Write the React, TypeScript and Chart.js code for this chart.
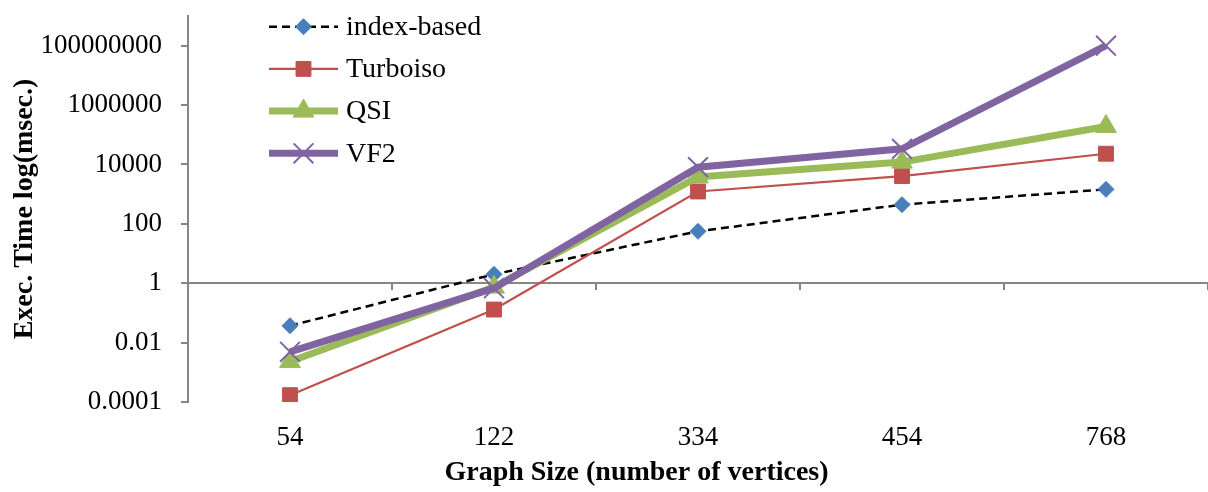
import React, { useEffect, useRef } from 'react';
import { Chart, registerables } from 'chart.js';

Chart.register(...registerables);

const CATEGORIES = ['54', '122', '334', '454', '768'];
const INDEX_BASED = [0.037, 2.0, 56, 443, 1450];
const TURBOISO = [0.00017, 0.13, 1230, 4050, 23000];
const QSI = [0.0023, 0.74, 3800, 12000, 190000];
const VF2 = [0.0049, 0.68, 8100, 33600, 100000000];
const SERIES_NAMES = ['index-based', 'Turboiso', 'QSI', 'VF2'];
const Y_TICK_VALUES = [0.0001, 0.01, 1, 100, 10000, 1000000, 100000000];
const Y_TICK_LABELS = ['0.0001', '0.01', '1', '100', '10000', '1000000', '100000000'];
const X_TITLE = 'Graph Size (number of vertices)';
const Y_TITLE = 'Exec. Time log(msec.)';

const AXIS_GRAY = '#868686';
const FONT = "'Liberation Serif', 'Times New Roman', serif";

function drawMarker(
  ctx: CanvasRenderingContext2D,
  style: string,
  x: number,
  y: number,
  r: number,
  fill: string,
  stroke: string,
  lw: number
) {
  ctx.save();
  ctx.setLineDash([]);
  ctx.fillStyle = fill;
  ctx.strokeStyle = stroke;
  ctx.lineWidth = lw;
  ctx.beginPath();
  if (style === 'rectRot') {
    ctx.moveTo(x, y - r);
    ctx.lineTo(x + r, y);
    ctx.lineTo(x, y + r);
    ctx.lineTo(x - r, y);
    ctx.closePath();
    ctx.fill();
    ctx.stroke();
  } else if (style === 'rect') {
    const s = r * Math.SQRT1_2;
    ctx.rect(x - s, y - s, 2 * s, 2 * s);
    ctx.fill();
    ctx.stroke();
  } else if (style === 'triangle') {
    ctx.moveTo(x, y - r);
    ctx.lineTo(x + r * Math.sin(Math.PI / 3), y + r / 2);
    ctx.lineTo(x - r * Math.sin(Math.PI / 3), y + r / 2);
    ctx.closePath();
    ctx.fill();
    ctx.stroke();
  } else if (style === 'crossRot') {
    const d = r * Math.SQRT1_2;
    ctx.moveTo(x - d, y - d);
    ctx.lineTo(x + d, y + d);
    ctx.moveTo(x - d, y + d);
    ctx.lineTo(x + d, y - d);
    ctx.stroke();
  }
  ctx.restore();
}

const stretchPlugin = {
  id: 'stretchRight',
  afterLayout(chart: any) {
    const target = chart.width;
    const ca = chart.chartArea;
    if (ca.right < target) {
      ca.right = target;
      ca.width = ca.right - ca.left;
      const xs = chart.scales.x;
      xs.right = target;
      xs.width = xs.right - xs.left;
      xs.configure();
    }
  },
};

const baselinePlugin = {
  id: 'baselineAtOne',
  beforeDatasetsDraw(chart: any) {
    const { ctx, chartArea, scales } = chart;
    const y = Math.round(scales.y.getPixelForValue(1));
    ctx.save();
    ctx.strokeStyle = AXIS_GRAY;
    ctx.lineWidth = 2;
    ctx.beginPath();
    ctx.moveTo(chartArea.left, y);
    ctx.lineTo(chartArea.right, y);
    ctx.stroke();
    for (let i = 0; i <= CATEGORIES.length; i++) {
      const x = Math.round(scales.x.getPixelForValue(i - 0.5));
      ctx.beginPath();
      ctx.moveTo(x, y);
      ctx.lineTo(x, y + 7);
      ctx.stroke();
    }
    ctx.restore();
  },
};

const legendPlugin = {
  id: 'insideLegend',
  afterDatasetsDraw(chart: any) {
    const { ctx } = chart;
    const x0 = 269;
    const x1 = 338;
    const xm = 303.5;
    const tx = 346;
    chart.data.datasets.forEach((ds: any, i: number) => {
      const y = 26.7 + i * 42.2;
      ctx.save();
      ctx.strokeStyle = ds.borderColor;
      ctx.lineWidth = ds.borderWidth;
      ctx.setLineDash(ds.borderDash || []);
      ctx.lineCap = 'butt';
      ctx.beginPath();
      ctx.moveTo(x0, y);
      ctx.lineTo(x1, y);
      ctx.stroke();
      ctx.restore();
      drawMarker(
        ctx,
        ds.pointStyle,
        xm,
        y,
        ds.pointRadius,
        ds.pointBackgroundColor,
        ds.pointBorderColor,
        ds.pointBorderWidth
      );
      ctx.save();
      ctx.fillStyle = '#000';
      ctx.font = `28px ${FONT}`;
      ctx.textBaseline = 'middle';
      ctx.textAlign = 'left';
      ctx.fillText(ds.label, tx, y + 1);
      ctx.restore();
    });
  },
};

const xTitlePlugin = {
  id: 'xTitle',
  afterDraw(chart: any) {
    const { ctx } = chart;
    ctx.save();
    ctx.fillStyle = '#000';
    ctx.font = `bold 28px ${FONT}`;
    ctx.textAlign = 'center';
    ctx.textBaseline = 'alphabetic';
    ctx.fillText(X_TITLE, 636.5, 480);
    ctx.restore();
  },
};

function zeroPadding(scale: any) {
  scale.paddingTop = 0;
  scale.paddingBottom = 0;
  scale.paddingLeft = 0;
  scale.paddingRight = 0;
}

export default function App() {
  const canvasRef = useRef<HTMLCanvasElement | null>(null);

  useEffect(() => {
    const canvas = canvasRef.current;
    if (!canvas) return;
    const chart = new Chart(canvas, {
      type: 'line',
      data: {
        labels: CATEGORIES,
        datasets: [
          {
            label: SERIES_NAMES[0],
            data: INDEX_BASED,
            borderColor: '#000000',
            borderWidth: 2.5,
            borderDash: [8, 5],
            pointStyle: 'rectRot',
            pointRadius: 8,
            pointBackgroundColor: '#4A7EBB',
            pointBorderColor: '#4A7EBB',
            pointBorderWidth: 1,
            order: 3,
          },
          {
            label: SERIES_NAMES[1],
            data: TURBOISO,
            borderColor: '#C0504D',
            borderWidth: 2.2,
            pointStyle: 'rect',
            pointRadius: 10.5,
            pointBackgroundColor: '#C0504D',
            pointBorderColor: '#C0504D',
            pointBorderWidth: 1,
            order: 2,
          },
          {
            label: SERIES_NAMES[2],
            data: QSI,
            borderColor: '#9BBB59',
            borderWidth: 7,
            pointStyle: 'triangle',
            pointRadius: 12,
            pointBackgroundColor: '#9BBB59',
            pointBorderColor: '#9BBB59',
            pointBorderWidth: 1,
            order: 1,
          },
          {
            label: SERIES_NAMES[3],
            data: VF2,
            borderColor: '#8064A2',
            borderWidth: 7,
            pointStyle: 'crossRot',
            pointRadius: 14,
            pointBackgroundColor: '#8064A2',
            pointBorderColor: '#8064A2',
            pointBorderWidth: 2,
            order: 0,
          },
        ] as any,
      },
      options: {
        responsive: false,
        animation: false,
        devicePixelRatio: 1,
        layout: { padding: { top: 15, left: 0, right: 0, bottom: 0 } },
        elements: { line: { tension: 0 } },
        plugins: {
          legend: { display: false },
          tooltip: { enabled: false },
        },
        scales: {
          x: {
            type: 'category',
            offset: true,
            grid: { display: false, drawTicks: false, offset: true },
            border: { display: false },
            ticks: {
              color: '#000',
              font: { family: FONT, size: 27, lineHeight: 1.1 },
              padding: 21,
              maxRotation: 0,
              autoSkip: false,
            },
            title: { display: false },
            afterFit(scale: any) {
              scale.height = 90;
              zeroPadding(scale);
            },
          },
          y: {
            type: 'logarithmic',
            min: 0.0001,
            max: 1000000000,
            grid: {
              drawOnChartArea: false,
              drawTicks: true,
              tickLength: 7,
              color: AXIS_GRAY,
              lineWidth: 2,
            },
            border: { display: true, color: AXIS_GRAY, width: 2 },
            ticks: {
              color: '#000',
              font: { family: FONT, size: 27, lineHeight: 1.1 },
              padding: 19,
              autoSkip: false,
              callback: (_v: any, index: number) => Y_TICK_LABELS[index],
            },
            afterBuildTicks(scale: any) {
              scale.ticks = Y_TICK_VALUES.map((v) => ({ value: v, major: false }));
            },
            title: {
              display: true,
              text: Y_TITLE,
              color: '#000',
              font: { family: FONT, size: 28, weight: 'bold', lineHeight: 1.2 },
              padding: { top: 8, bottom: 0 },
            },
            afterFit(scale: any) {
              scale.width = 188;
              zeroPadding(scale);
            },
          },
        },
      } as any,
      plugins: [stretchPlugin, baselinePlugin, legendPlugin, xTitlePlugin],
    });
    return () => chart.destroy();
  }, []);

  return (
    <div style={{ position: 'absolute', left: 0, top: 0, width: 1208, height: 492, background: '#fff' }}>
      <canvas ref={canvasRef} width={1208} height={492} style={{ width: 1208, height: 492, display: 'block' }} />
    </div>
  );
}
